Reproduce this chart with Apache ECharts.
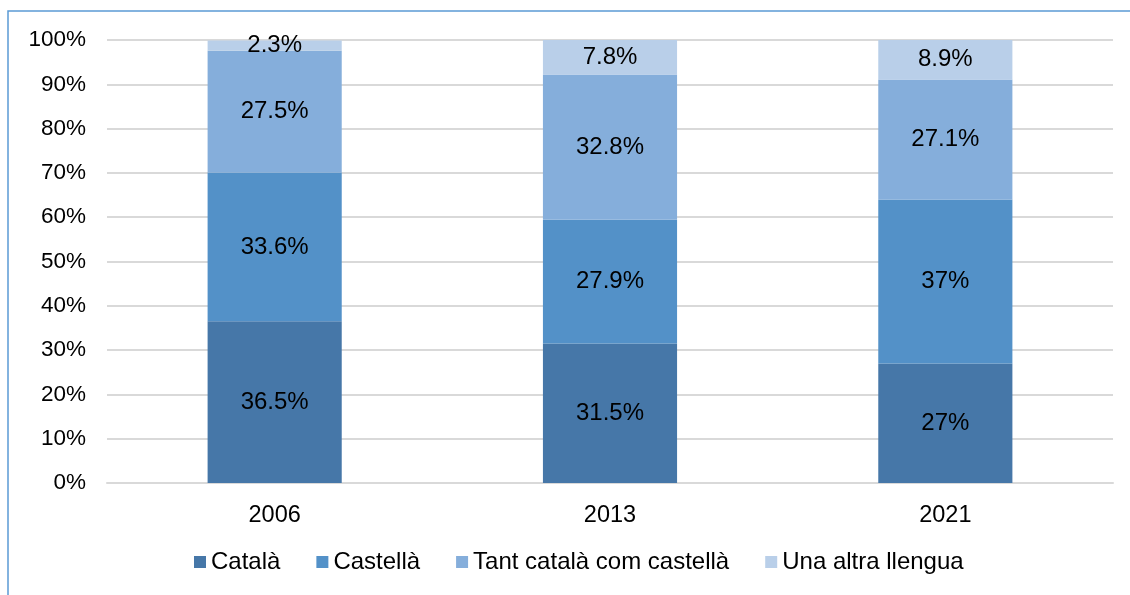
<!DOCTYPE html>
<html lang="ca">
<head>
    <meta charset="UTF-8">
    <title>Llengua</title>
    <script src="https://cdn.jsdelivr.net/npm/echarts@6/dist/echarts.min.js"></script>
    <style>
        html, body { margin: 0; padding: 0; background: #fff; }
        #chart { width: 1130px; height: 595px; }
    </style>
</head>
<body>
    <div id="chart"></div>
    <script>
        // dades
        const years = ['2006', '2013', '2021'];
        const catala = [36.5, 31.5, 27];
        const castella = [33.6, 27.9, 37];
        const tots = [27.5, 32.8, 27.1];
        const altra = [2.3, 7.8, 8.9];
        const seriesNames = ['Català', 'Castellà', 'Tant català com castellà', 'Una altra llengua'];
        const colors = ['#4677a8', '#5391c8', '#85aedb', '#b9cfe9'];

        const chart = echarts.init(document.getElementById('chart'));
        const font = 'Liberation Sans, Arial, sans-serif';

        function makeSeries(name, values, color) {
            return {
                name: name,
                type: 'bar',
                stack: 'total',
                barWidth: '40%',
                data: values,
                itemStyle: { color: color },
                label: {
                    show: true,
                    position: 'inside',
                    color: '#000',
                    fontFamily: font,
                    fontSize: 24,
                    formatter: p => p.value + '%'
                }
            };
        }

        chart.setOption({
            animation: false,
            color: colors,
            graphic: [{
                type: 'rect',
                shape: { x: 8, y: 11, width: 1200, height: 700 },
                style: { fill: 'none', stroke: '#5b9bd5', lineWidth: 1.5 }
            }],
            grid: { left: 107, right: 17, top: 40, bottom: 112 },
            legend: {
                bottom: 16,
                left: 189,
                itemWidth: 12,
                itemHeight: 12,
                itemGap: 36,
                icon: 'rect',
                textStyle: { fontFamily: font, fontSize: 24, color: '#000' },
                data: seriesNames
            },
            xAxis: {
                type: 'category',
                data: years,
                axisLine: { lineStyle: { color: '#d9d9d9', width: 2 } },
                axisTick: { show: false },
                axisLabel: { color: '#000', fontFamily: font, fontSize: 23.5, margin: 21 }
            },
            yAxis: {
                type: 'value',
                min: 0,
                max: 100,
                interval: 10,
                axisLabel: { color: '#000', fontFamily: font, fontSize: 22.5, margin: 21, formatter: '{value}%' },
                splitLine: { lineStyle: { color: '#d9d9d9', width: 2 } },
                axisLine: { show: false },
                axisTick: { show: false }
            },
            series: [
                makeSeries(seriesNames[0], catala, colors[0]),
                makeSeries(seriesNames[1], castella, colors[1]),
                makeSeries(seriesNames[2], tots, colors[2]),
                makeSeries(seriesNames[3], altra, colors[3])
            ]
        });
    </script>
</body>
</html>
